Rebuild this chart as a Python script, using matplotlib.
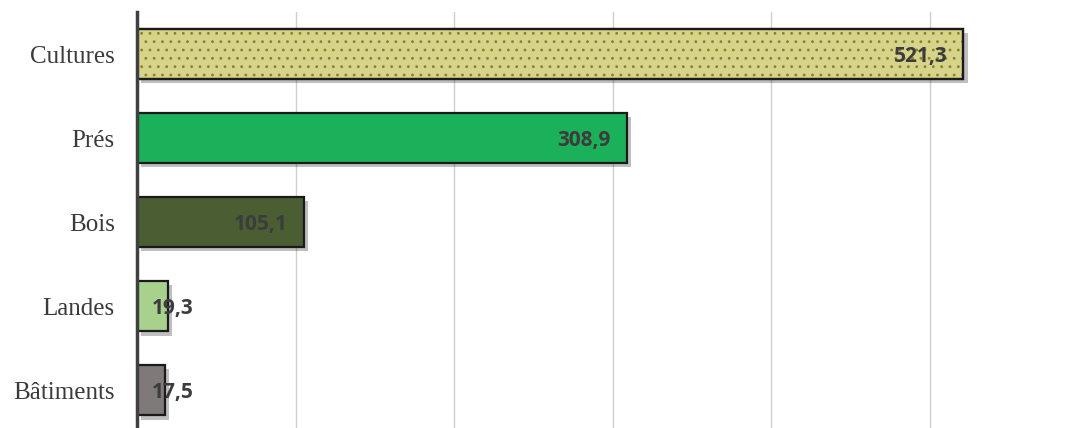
import matplotlib.pyplot as plt
import matplotlib.patheffects as pe

# land use categories, top to bottom
categories = ['Cultures', 'Prés', 'Bois', 'Landes', 'Bâtiments']
values = [521.3, 308.9, 105.1, 19.3, 17.5]
labels = ['521,3', '308,9', '105,1', '19,3', '17,5']
colors = ['#d6d38b', '#1bb05a', '#4a5d33', '#a9d18e', '#7f7979']
hatches = ['..', None, None, None, None]

fig = plt.figure(figsize=(10.77, 4.28), dpi=100)
ax = fig.add_axes([137 / 1077, 0, (1077 - 137) / 1077, 1 - 12 / 428])

plt.rcParams['hatch.linewidth'] = 0.8

shadow = [pe.SimplePatchShadow(offset=(3, -3), shadow_rgbFace='#000000', alpha=0.25), pe.Normal()]
bars = ax.barh(range(len(values)), values, height=0.6, color=colors,
               edgecolor='#1a1a1a', linewidth=1.6, zorder=3)
for b in bars:
    b.set_path_effects(shadow)

# dotted texture drawn as an overlay so the shadow stays plain
for i, (v, h) in enumerate(zip(values, hatches)):
    if h:
        ax.barh(i, v, height=0.6, facecolor='none', edgecolor='#8f7f28',
                linewidth=0, hatch=h, zorder=3.5)
        ax.barh(i, v, height=0.6, facecolor='none', edgecolor='#1a1a1a',
                linewidth=1.6, zorder=3.6)

for i, (v, lab) in enumerate(zip(values, labels)):
    if v > 60:
        ax.annotate(lab, (v, i), xytext=(-11.5, -2), textcoords='offset points',
                    ha='right', va='center', fontsize=15, fontweight='bold',
                    family='Open Sans', color='#3c3c3c', zorder=5)
    else:
        ax.annotate(lab, (0, i), xytext=(11, -2), textcoords='offset points',
                    ha='left', va='center', fontsize=15, fontweight='bold',
                    family='Open Sans', color='#3c3c3c', zorder=5)

ax.set_yticks(range(len(categories)))
ax.set_yticklabels(categories, family='Liberation Serif', fontsize=18, color='#3a3a3a')
ax.set_ylim(4.45, -0.5)
ax.set_xlim(0, 593)
ax.set_xticks([100, 200, 300, 400, 500])
ax.set_xticklabels([])
ax.tick_params(length=0, pad=16)
ax.grid(axis='x', color='#cfcfcf', linewidth=1, zorder=0)
for s in ['top', 'right', 'bottom']:
    ax.spines[s].set_visible(False)
ax.spines['left'].set_color('#404040')
ax.spines['left'].set_linewidth(2.5)
ax.spines['left'].set_zorder(4)

fig.savefig('out.png', dpi=100)
